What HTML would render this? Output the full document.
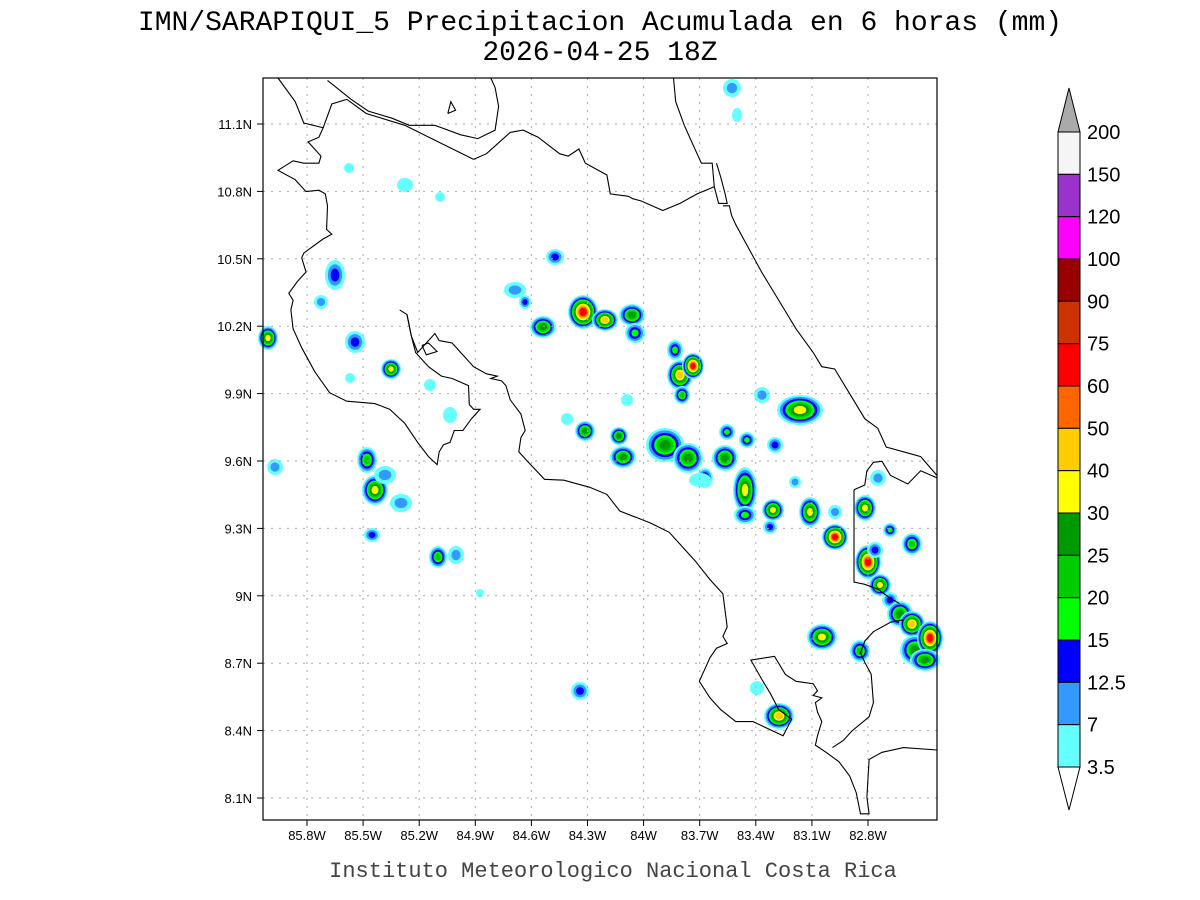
<!DOCTYPE html>
<html><head><meta charset="utf-8"><style>
html,body{margin:0;padding:0;background:#fff;width:1200px;height:900px;overflow:hidden}
svg{display:block}
text{font-family:"Liberation Sans",sans-serif}
</style></head><body>
<svg id="s" width="1200" height="900" xmlns="http://www.w3.org/2000/svg">
<rect width="1200" height="900" fill="#fff"/>
<text x="600" y="30" text-anchor="middle" font-size="28" style="font-family:'Liberation Mono',monospace">IMN/SARAPIQUI_5 Precipitacion Acumulada en 6 horas (mm)</text>
<text x="600" y="60" text-anchor="middle" font-size="28" style="font-family:'Liberation Mono',monospace">2026-04-25 18Z</text>
<text x="613" y="877" text-anchor="middle" font-size="22" style="font-family:'Liberation Mono',monospace" fill="#444">Instituto Meteorologico Nacional Costa Rica</text>
<g id="blobs"></g>
<g id="grid"></g>
<g id="coast" fill="none" stroke="#000" stroke-width="1.1"></g>
<rect x="263" y="78" width="674" height="742" fill="none" stroke="#000" stroke-width="1.2"/>
<g id="lab" font-size="13"></g>
<g id="cb"></g>
</svg>
<script>
var NS="http://www.w3.org/2000/svg",s=document.getElementById('s');
function el(p,t,a,txt){var e=document.createElementNS(NS,t);for(var k in a)e.setAttribute(k,a[k]);if(txt!==undefined)e.textContent=txt;p.appendChild(e);return e;}
var C=['#66ffff','#3399ff','#0000ff','#00ff00','#00cc00','#009900','#ffff00','#ffcc00','#ff6600','#ff0000'];
var B=[[268,338,7,9,6],[275,467,5,5,1],[335,275,7,12,2],[321,302,4,4,1],[355,342,7,8,2],[391,369,7,7,6],[350,378,2,2,0],[405,185,5,4,0],[349,168,2,2,0],[440,197,2,2,0],[367,460,7,10,4],[375,490,10,12,6],[385,475,8,6,1],[401,503,8,6,1],[372,535,5,4,2],[438,557,6,8,4],[456,555,5,6,1],[450,415,4,5,0],[430,385,3,3,0],[515,290,8,5,1],[525,302,3,4,2],[555,257,6,5,2],[543,327,10,8,5],[583,312,12,14,9],[605,320,10,8,7],[632,315,10,8,5],[635,333,7,7,3],[585,431,7,7,5],[619,436,6,6,5],[623,457,10,8,5],[627,400,3,3,0],[567,419,3,3,0],[675,350,5,7,3],[680,375,10,12,7],[693,366,8,10,9],[682,395,5,6,4],[665,445,16,14,5],[688,458,12,12,5],[705,478,5,7,3],[700,480,8,4,0],[725,458,10,10,5],[727,432,5,5,3],[747,440,5,5,3],[762,395,5,5,1],[775,445,5,5,2],[745,490,9,20,6],[745,515,8,6,3],[773,510,8,8,6],[770,527,4,4,2],[795,482,3,3,1],[800,410,20,12,6],[732,88,6,6,1],[737,115,2,4,0],[810,512,8,12,6],[835,512,4,4,1],[835,537,10,10,9],[865,508,8,10,6],[878,478,5,5,1],[868,562,10,14,9],[875,550,5,5,2],[890,530,4,4,3],[912,544,7,8,4],[880,585,8,8,6],[890,600,5,5,2],[900,614,10,10,5],[912,624,10,10,7],[915,650,12,12,5],[930,638,10,14,9],[925,660,12,8,5],[822,637,12,10,6],[860,651,7,8,4],[757,688,4,4,0],[779,716,12,10,7],[580,691,6,6,2],[480,593,1,1,0]];
var bg=document.getElementById('blobs');
B.forEach(function(b){var L=b[4];for(var i=0;i<=L;i++){var f=1-i/(L+1)*0.85;el(bg,'ellipse',{cx:b[0],cy:b[1],rx:(b[2]+3)*f,ry:(b[3]+3)*f,fill:C[i]});}});
var g=document.getElementById('grid'),lab=document.getElementById('lab');
var lons=['85.8W','85.5W','85.2W','84.9W','84.6W','84.3W','84W','83.7W','83.4W','83.1W','82.8W'];
for(var i=0;i<11;i++){var x=307+i*56.1;el(g,'line',{x1:x,y1:78,x2:x,y2:820,stroke:'#aaa','stroke-dasharray':'2,6'});el(g,'line',{x1:x,y1:820,x2:x,y2:826,stroke:'#000'});el(lab,'text',{x:x,y:840,'text-anchor':'middle'},lons[i]);}
var lats=['11.1N','10.8N','10.5N','10.2N','9.9N','9.6N','9.3N','9N','8.7N','8.4N','8.1N'];
for(var i=0;i<11;i++){var y=124+i*67.4;el(g,'line',{x1:263,y1:y,x2:937,y2:y,stroke:'#aaa','stroke-dasharray':'2,6'});el(g,'line',{x1:257,y1:y,x2:263,y2:y,stroke:'#000'});el(lab,'text',{x:252,y:y+5,'text-anchor':'end'},lats[i]);}
var P=[
[35,0,75,50,95,95,140,105,130,125,105,135,115,145,135,165,130,180,95,180,70,175,35,195,75,215,100,240,130,237,145,245,150,270,148,320,160,330,140,340,95,370,90,380,100,410,80,430,60,455,70,470,65,490,70,530,90,570,120,620,155,665,195,683,260,688,295,700,330,730,360,770,385,800,405,817,410,790,420,775,435,770,445,745,465,745,485,720,505,700,490,700,480,690,478,650,440,635,415,630,385,610,370,595,355,580,345,545,335,500,318,490],
[335,500,345,545,360,580,400,540,410,555,440,560,470,590,490,610,520,625,545,630,530,635,555,640,565,650,575,680,600,710,610,745,600,760,595,790,615,810,655,848,700,850,760,865,800,880,830,915,900,940,945,960,975,990,1005,1020,1040,1060,1070,1090,1080,1160,1070,1180,1080,1195,1055,1205,1040,1225,1030,1245,1015,1275,1040,1310,1065,1335,1100,1360,1140,1360,1210,1390,1230,1355,1200,1335,1180,1300,1160,1270,1135,1230,1190,1222,1215,1260,1240,1275,1280,1280,1290,1295,1280,1305,1300,1310,1285,1320,1290,1340,1300,1360,1290,1390,1285,1410,1310,1425,1340,1445,1365,1475,1380,1510,1390,1555,1410,1555,1405,1520,1410,1440,1440,1425,1490,1415,1568,1420],
[1325,1415,1350,1400,1370,1380,1410,1350,1420,1320,1415,1260,1400,1235,1390,1215,1400,1190,1420,1170,1460,1150,1490,1145],
[1375,870,1375,1065,1400,1070,1430,1080,1460,1100,1480,1110],
[1375,870,1400,860,1405,830,1420,812,1440,810,1460,840,1500,858,1530,830,1568,845],
[955,0,960,50,980,100,1000,140,1020,180,1045,180,1050,230,1060,265,1080,265,1075,245,1065,210,1055,180],
[490,172,520,160,575,115,605,110,640,125,690,160,710,165,735,150,750,180,800,205,808,245,850,250,860,255,880,260,930,280,970,265,1010,245,1050,230],
[1070,270,1085,270,1090,290,1100,310,1130,360,1160,410,1200,470,1240,530,1280,580,1300,610,1330,615,1360,660,1400,720,1430,740,1450,780,1490,790,1530,800,1568,840],
[150,5,205,45,245,70,300,85,340,100,400,100,460,120,500,128,540,110,548,60,540,20,530,0],
[140,105,160,55,195,45,240,75,330,100,490,172],
[430,75,437,50,448,68,430,75],
[370,565,385,560,405,578,380,585,370,565]];
var cg=document.getElementById('coast'),kx=674/1568,ky=742/1568;
P.forEach(function(p){var pts=[];for(var i=0;i<p.length;i+=2)pts.push((263+p[i]*kx).toFixed(1)+','+(78+p[i+1]*ky).toFixed(1));el(cg,'polyline',{points:pts.join(' ')});});
var cb=document.getElementById('cb');
var L=['200','150','120','100','90','75','60','50','40','30','25','20','15','12.5','7','3.5'];
var CC=['#f5f5f5','#9933cc','#ff00ff','#990000','#cc3300','#ff0000','#ff6600','#ffcc00','#ffff00','#009900','#00cc00','#00ff00','#0000ff','#3399ff','#66ffff'];
var x0=1058,x1=1080,dy=(767-132)/15;
el(cb,'polygon',{points:x0+',132 '+x1+',132 1069,88',fill:'#aaaaaa',stroke:'#000'});
for(var i=0;i<15;i++)el(cb,'rect',{x:x0,y:132+i*dy,width:22,height:dy,fill:CC[i],stroke:'#000'});
el(cb,'polygon',{points:x0+',767 '+x1+',767 1069,810',fill:'#fff',stroke:'#000'});
for(var i=0;i<16;i++)el(cb,'text',{x:1087,y:132+i*dy+7,'font-size':'20'},L[i]);
</script>
</body></html>
